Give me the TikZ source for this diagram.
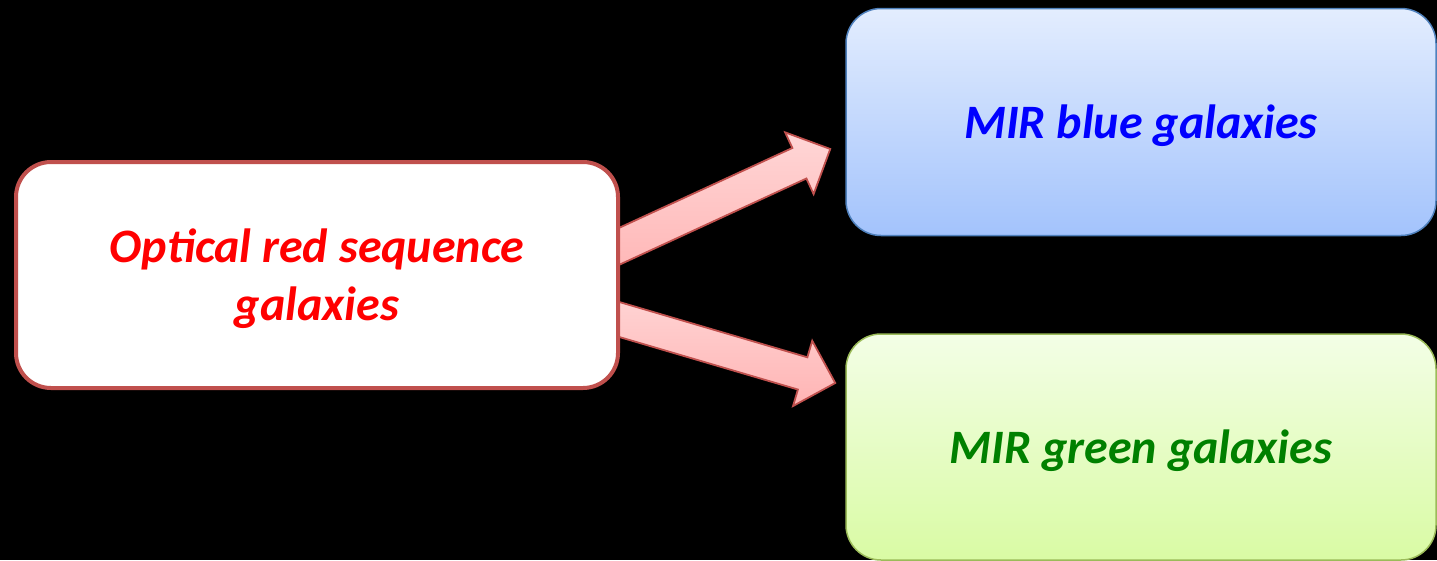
\documentclass[tikz,border=0pt]{standalone}
\usepackage{fontspec}
\setmainfont{Carlito}
\usepackage{tikz}
\usetikzlibrary{calc, positioning}

\definecolor{redline}{HTML}{C0504D}
\definecolor{blueline}{HTML}{4F81BD}
\definecolor{greenline}{HTML}{9BBB59}
\definecolor{bluetop}{HTML}{E3EDFE}
\definecolor{bluebot}{HTML}{A3C3FC}
\definecolor{greentop}{HTML}{F3FEE6}
\definecolor{greenbot}{HTML}{D9FBA4}
\definecolor{pinktop}{HTML}{FFD6D6}
\definecolor{pinkbot}{HTML}{FFB4B4}
\definecolor{txtgreen}{HTML}{008000}

\pgfdeclarelayer{bg}
\pgfsetlayers{bg,main}

% block arrow from #1 to #2
\newcommand{\blockarrow}[2]{%
\coordinate (h) at ($(#2)!34pt!(#1)$);
\shade[arrowbox] ($(#1)!16.8pt!90:(#2)$) -- ($(h)!16.8pt!90:(#2)$)
  -- ($(h)!34pt!90:(#2)$) -- (#2) -- ($(h)!34pt!-90:(#2)$)
  -- ($(h)!16.8pt!-90:(#2)$) -- ($(#1)!16.8pt!-90:(#2)$) -- cycle;}

\begin{document}
\begin{tikzpicture}[x=1pt,y=-1pt,
  galbox/.style={rectangle, rounded corners=35pt, align=center, inner sep=0pt,
    text depth=0pt, font=\fontsize{48}{58}\selectfont\bfseries\itshape},
  arrowbox/.style={top color=pinktop, bottom color=pinkbot, draw=redline,
    line width=1.8pt, line join=miter}]
\useasboundingbox (0,0) rectangle (1437,560);
\begin{pgfonlayer}{bg}
\fill[black] (0,0) rectangle (1437,560);
\end{pgfonlayer}

\node (optical) [galbox, fill=white, draw=redline, line width=4pt,
  minimum width=602pt, minimum height=226pt, text=red] at (317,275)
  {Optical red sequence\\galaxies};
\node (blue) [galbox, top color=bluetop, bottom color=bluebot, draw=blueline,
  line width=1.5pt, minimum width=590pt, minimum height=227pt, text=blue]
  at (1141,122) {MIR blue galaxies};
\node (green) [galbox, top color=greentop, bottom color=greenbot, draw=greenline,
  line width=1.5pt, minimum width=590pt, minimum height=226pt, text=txtgreen]
  at (1141,447) {MIR green galaxies};

\coordinate (s1) at ($(optical.east)+(-50,-6)$);
\coordinate (t1) at ($(blue.west)+(-15,27)$);
\coordinate (s2) at ($(optical.east)+(-50,30)$);
\coordinate (t2) at ($(green.west)+(-10,-64)$);

\begin{pgfonlayer}{bg}
\blockarrow{s1}{t1}
\blockarrow{s2}{t2}
\end{pgfonlayer}
\end{tikzpicture}
\end{document}
